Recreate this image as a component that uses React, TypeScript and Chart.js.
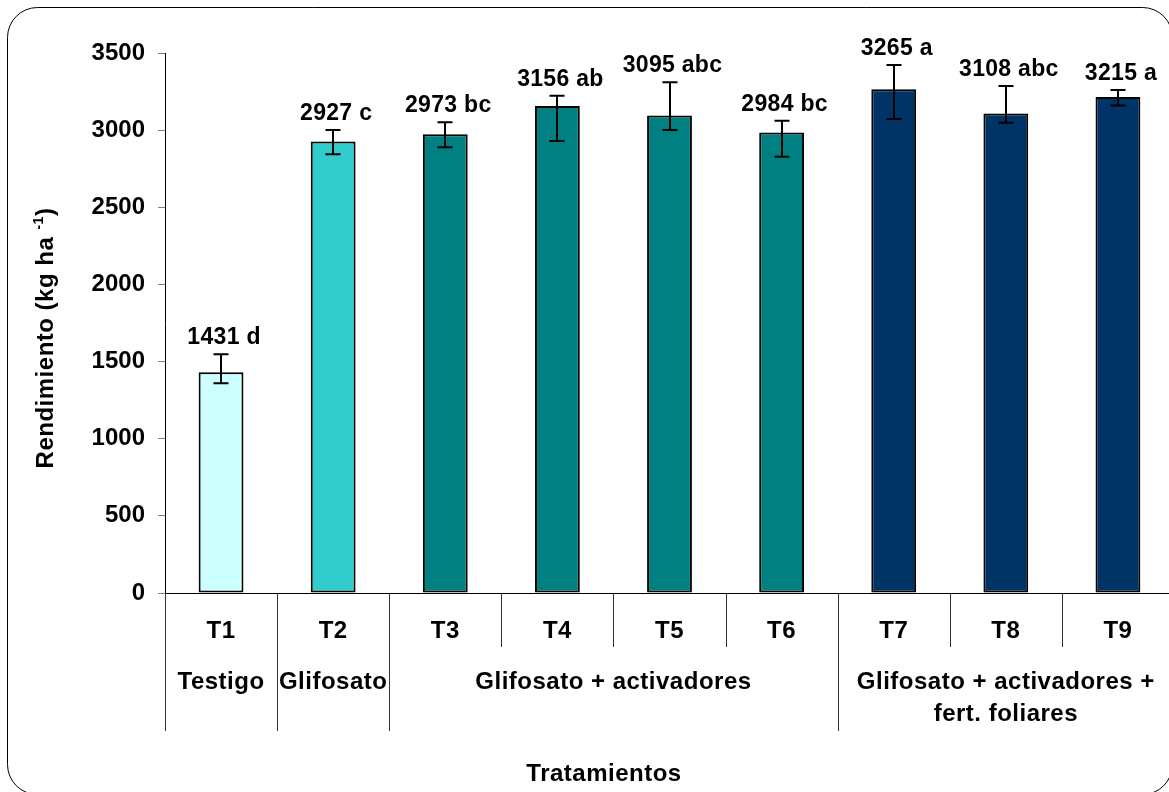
import React, { useEffect, useRef } from 'react';
import { Chart, registerables } from 'chart.js';
Chart.register(...registerables);

const categories = ['T1', 'T2', 'T3', 'T4', 'T5', 'T6', 'T7', 'T8', 'T9'];
const means = [1431, 2927, 2973, 3156, 3095, 2984, 3265, 3108, 3215];
const letters = ['d', 'c', 'bc', 'ab', 'abc', 'bc', 'a', 'abc', 'a'];
const errHigh = [1547, 3001, 3051, 3223, 3310, 3061, 3422, 3286, 3260];
const errLow = [1359, 2843, 2889, 2930, 3001, 2828, 3072, 3048, 3160];
const barColors = ['#CCFFFF', '#33CCCC', '#008080', '#008080', '#008080', '#008080', '#003366', '#003366', '#003366'];
const groupNames = [['Testigo'], ['Glifosato'], ['Glifosato + activadores'], ['Glifosato + activadores +', 'fert. foliares']];
const groupSizes = [1, 1, 4, 3];
const yTitle = 'Rendimiento (kg ha';
const yTitleSup = '-1';
const xTitle = 'Tratamientos';

const FONT = '"Liberation Sans", Arial, sans-serif';

const overlay = {
  id: 'overlay',
  beforeDraw(chart: any) {
    const ctx = chart.ctx;
    ctx.save();
    ctx.fillStyle = '#fff';
    ctx.fillRect(0, 0, chart.width, chart.height);
    ctx.strokeStyle = '#000';
    ctx.lineWidth = 1;
    ctx.beginPath();
    ctx.roundRect(7.5, 7.5, 1165, 787, 30);
    ctx.stroke();
    ctx.restore();
  },
  afterDatasetsDraw(chart: any) {
    const ctx = chart.ctx;
    const x = chart.scales.x;
    const y = chart.scales.y;
    const area = chart.chartArea;
    ctx.save();
    // error bars
    ctx.strokeStyle = '#000';
    ctx.lineWidth = 2;
    for (let i = 0; i < means.length; i++) {
      const cx = Math.round(x.getPixelForValue(i));
      const yt = y.getPixelForValue(errHigh[i]);
      const yb = y.getPixelForValue(errLow[i]);
      ctx.beginPath();
      ctx.moveTo(cx, yt);
      ctx.lineTo(cx, yb);
      ctx.moveTo(cx - 7.5, yt);
      ctx.lineTo(cx + 7.5, yt);
      ctx.moveTo(cx - 7.5, yb);
      ctx.lineTo(cx + 7.5, yb);
      ctx.stroke();
    }
    // value labels
    ctx.fillStyle = '#000';
    ctx.font = 'bold 23px ' + FONT;
    ctx.textAlign = 'center';
    ctx.textBaseline = 'alphabetic';
    try { ctx.letterSpacing = '0.3px'; } catch (e) {}
    for (let i = 0; i < means.length; i++) {
      const cx = x.getPixelForValue(i) + 3;
      const yt = y.getPixelForValue(errHigh[i]);
      ctx.fillText(means[i] + ' ' + letters[i], cx, yt - 10);
    }
    // separators
    const bottom = area.bottom;
    const boundary = (k: number) => {
      if (k === 0) return area.left;
      if (k === categories.length) return area.right;
      return (x.getPixelForValue(k - 1) + x.getPixelForValue(k)) / 2;
    };
    const groupStarts: number[] = [];
    let acc = 0;
    for (const s of groupSizes) { groupStarts.push(acc); acc += s; }
    ctx.strokeStyle = '#333';
    ctx.lineWidth = 1;
    for (let k = 0; k <= categories.length; k++) {
      const bx = Math.round(boundary(k)) + 0.5;
      const long = groupStarts.includes(k) || k === categories.length;
      ctx.beginPath();
      ctx.moveTo(bx, bottom);
      ctx.lineTo(bx, long ? 731 : 647);
      ctx.stroke();
    }
    // category labels
    ctx.fillStyle = '#000';
    ctx.font = 'bold 24px ' + FONT;
    try { ctx.letterSpacing = '0.5px'; } catch (e) {}
    for (let i = 0; i < categories.length; i++) {
      ctx.fillText(categories[i], x.getPixelForValue(i), 638);
    }
    // group labels
    for (let g = 0; g < groupSizes.length; g++) {
      const l = boundary(groupStarts[g]);
      const r = boundary(groupStarts[g] + groupSizes[g]);
      const cx = (l + r) / 2;
      groupNames[g].forEach((line, j) => {
        ctx.fillText(line, cx, 689 + j * 32);
      });
    }
    // x title
    ctx.fillText(xTitle, 604, 781);
    // y title with superscript
    ctx.translate(53, 338);
    ctx.rotate(-Math.PI / 2);
    ctx.textAlign = 'left';
    const mainFont = 'bold 24px ' + FONT;
    const supFont = 'bold 14px ' + FONT;
    ctx.font = mainFont;
    const w1 = ctx.measureText(yTitle + ' ').width;
    const w3 = ctx.measureText(')').width;
    ctx.font = supFont;
    const w2 = ctx.measureText(yTitleSup).width;
    const total = w1 + w2 + w3;
    let px = -total / 2;
    ctx.font = mainFont;
    ctx.fillText(yTitle + ' ', px, 0);
    px += w1;
    ctx.font = supFont;
    ctx.fillText(yTitleSup, px, -10);
    px += w2;
    ctx.font = mainFont;
    ctx.fillText(')', px, 0);
    ctx.restore();
  },
};

export default function App() {
  const ref = useRef<HTMLCanvasElement>(null);
  useEffect(() => {
    const chart = new Chart(ref.current!, {
      type: 'bar',
      data: {
        labels: categories,
        datasets: [
          {
            data: means,
            backgroundColor: barColors,
            borderColor: '#000',
            borderWidth: 2,
            borderSkipped: false,
            barPercentage: 0.4,
            categoryPercentage: 1,
          },
        ],
      },
      options: {
        responsive: false,
        animation: false,
        devicePixelRatio: 1,
        layout: { padding: { left: 0, top: 53, right: 16, bottom: 0 }, autoPadding: false },
        plugins: { legend: { display: false }, tooltip: { enabled: false } },
        scales: {
          x: {
            grid: { display: false },
            ticks: { display: false },
            border: { display: true, color: '#000', width: 1 },
            afterFit: (s: any) => { s.height = 207; },
          },
          y: {
            min: 0,
            max: 3500,
            ticks: {
              stepSize: 500,
              color: '#000',
              padding: 13,
              font: { family: FONT, size: 24, weight: 'bold' },
              callback: (v: any) => String(v),
            },
            grid: { drawOnChartArea: false, drawTicks: true, tickLength: 7, color: '#808080' },
            border: { display: true, color: '#000', width: 1 },
            afterFit: (s: any) => { s.width = 165; },
          },
        },
      },
      plugins: [overlay],
    } as any);
    return () => chart.destroy();
  }, []);
  return (
    <div style={{ position: 'absolute', left: 0, top: 0, width: 1169, height: 792, overflow: 'hidden', background: '#fff' }}>
      <canvas ref={ref} width={1190} height={800} style={{ display: 'block', width: 1190, height: 800 }} />
    </div>
  );
}
